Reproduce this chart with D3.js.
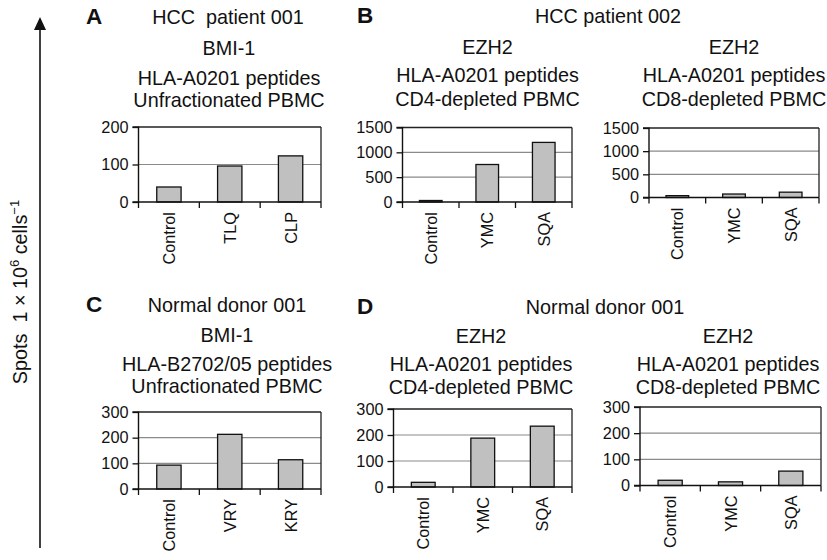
<!DOCTYPE html>
<html>
<head>
<meta charset="utf-8">
<script src="https://cdn.jsdelivr.net/npm/d3@7"></script>
<style>
  html, body { margin: 0; padding: 0; background: #fff; }
  svg { display: block; font-family: "Liberation Sans", Arial, Helvetica, sans-serif; }
</style>
</head>
<body>
<svg id="chart" width="827" height="560"></svg>
<script>
// ---------- data ----------
const catsA = ["Control", "TLQ", "CLP"];
const valuesA = [40, 96, 123];
const ticksA = [0, 100, 200];

const catsB = ["Control", "YMC", "SQA"];
const valuesB_CD4 = [30, 755, 1200];
const valuesB_CD8 = [40, 75, 115];
const ticksB = [0, 500, 1000, 1500];

const catsC = ["Control", "VRY", "KRY"];
const valuesC = [93, 213, 114];
const ticksC = [0, 100, 200, 300];

const catsD = ["Control", "YMC", "SQA"];
const valuesD_CD4 = [18, 188, 234];
const valuesD_CD8 = [20, 14, 55];
const ticksD = [0, 100, 200, 300];

const titlesA = ["BMI-1", "HLA-A0201 peptides", "Unfractionated PBMC"];
const titlesB1 = ["EZH2", "HLA-A0201 peptides", "CD4-depleted PBMC"];
const titlesB2 = ["EZH2", "HLA-A0201 peptides", "CD8-depleted PBMC"];
const titlesC = ["BMI-1", "HLA-B2702/05 peptides", "Unfractionated PBMC"];
const titlesD1 = ["EZH2", "HLA-A0201 peptides", "CD4-depleted PBMC"];
const titlesD2 = ["EZH2", "HLA-A0201 peptides", "CD8-depleted PBMC"];

// ---------- drawing ----------
const svg = d3.select("#chart");
const FONT_T = 19.8;
const FONT_TICK = 16.3;

function panel(cfg) {
  const g = svg.append("g");
  const x = d3.scaleBand().domain(cfg.cats).range([cfg.x0, cfg.x1]).paddingInner(0).paddingOuter(0);
  const y = d3.scaleLinear().domain([0, cfg.ticks[cfg.ticks.length - 1]]).range([cfg.y0, cfg.yTop]);

  // gridlines
  g.selectAll("line.grid").data(cfg.ticks.slice(1, -1)).enter().append("line")
    .attr("x1", cfg.x0).attr("x2", cfg.x1)
    .attr("y1", d => y(d)).attr("y2", d => y(d))
    .attr("stroke", "#8a8a8a").attr("stroke-width", 1.1);

  // frame top & right
  g.append("line").attr("x1", cfg.x0).attr("x2", cfg.x1).attr("y1", cfg.yTop).attr("y2", cfg.yTop)
    .attr("stroke", "#222").attr("stroke-width", 1.3);
  g.append("line").attr("x1", cfg.x1).attr("x2", cfg.x1).attr("y1", cfg.yTop).attr("y2", cfg.y0)
    .attr("stroke", "#222").attr("stroke-width", 1.3);

  // bars
  const bw = x.bandwidth() / 2.5;
  g.selectAll("rect.bar").data(cfg.values).enter().append("rect")
    .attr("x", (d, i) => x(cfg.cats[i]) + (x.bandwidth() - bw) / 2)
    .attr("width", bw)
    .attr("y", d => y(d))
    .attr("height", d => y(0) - y(d))
    .attr("fill", "#c0c0c0").attr("stroke", "#111").attr("stroke-width", 1.3);

  // y axis
  const ya = d3.axisLeft(y).tickValues(cfg.ticks).tickSize(6).tickPadding(4).tickFormat(d3.format("d"));
  const yg = g.append("g").attr("transform", `translate(${cfg.x0},0)`).call(ya);
  yg.select(".domain").attr("stroke", "#111").attr("stroke-width", 1.4).attr("d", `M-6,${cfg.y0}H0V${cfg.yTop}H-6`);
  yg.selectAll(".tick line").attr("stroke", "#111").attr("stroke-width", 1.3);
  yg.selectAll(".tick text").attr("font-size", FONT_TICK).attr("fill", "#111")
    .attr("font-family", "'Liberation Sans', Arial, sans-serif");

  // x axis (ticks between categories)
  g.append("line").attr("x1", cfg.x0).attr("x2", cfg.x1).attr("y1", cfg.y0).attr("y2", cfg.y0)
    .attr("stroke", "#111").attr("stroke-width", 1.4);
  const bounds = cfg.cats.map(c => x(c)).concat([cfg.x1]);
  g.selectAll("line.xt").data(bounds).enter().append("line")
    .attr("x1", d => d).attr("x2", d => d).attr("y1", cfg.y0).attr("y2", cfg.y0 + 6)
    .attr("stroke", "#111").attr("stroke-width", 1.3);
  g.selectAll("text.xl").data(cfg.cats).enter().append("text")
    .attr("transform", d => `translate(${x(d) + x.bandwidth() / 2 + 6},${cfg.y0 + 10}) rotate(-90)`)
    .attr("text-anchor", "end").attr("font-size", FONT_TICK).attr("fill", "#111")
    .text(d => d);

  // subtitles
  g.selectAll("text.st").data(cfg.titles).enter().append("text")
    .attr("x", cfg.tx).attr("y", (d, i) => cfg.tys[i])
    .attr("text-anchor", "middle").attr("font-size", FONT_T).attr("fill", "#111")
    .text(d => d);
}

panel({cats: catsA, values: valuesA, ticks: ticksA, x0: 138.5, x1: 321, yTop: 127, y0: 202,
       titles: titlesA, tx: 229, tys: [55, 85, 107]});
panel({cats: catsB, values: valuesB_CD4, ticks: ticksB, x0: 402.5, x1: 572, yTop: 127.5, y0: 202,
       titles: titlesB1, tx: 487.5, tys: [54, 82, 106]});
panel({cats: catsB, values: valuesB_CD8, ticks: ticksB, x0: 649, x1: 819, yTop: 128, y0: 197.5,
       titles: titlesB2, tx: 734, tys: [54, 82, 106]});
panel({cats: catsC, values: valuesC, ticks: ticksC, x0: 138.5, x1: 321, yTop: 412, y0: 489,
       titles: titlesC, tx: 227, tys: [342, 371, 392.5]});
panel({cats: catsD, values: valuesD_CD4, ticks: ticksD, x0: 393.5, x1: 572, yTop: 409, y0: 487,
       titles: titlesD1, tx: 481, tys: [343, 371, 394]});
panel({cats: catsD, values: valuesD_CD8, ticks: ticksD, x0: 640, x1: 821, yTop: 407, y0: 485.5,
       titles: titlesD2, tx: 728, tys: [343, 371, 394]});

// panel letters & group headings
const heads = [
  {letter: "A", lx: 86, ly: 23.5, text: "HCC\u00a0 patient 001", tx: 228},
  {letter: "B", lx: 357, ly: 23, text: "HCC patient 002", tx: 608},
  {letter: "C", lx: 86, ly: 312, text: "Normal donor 001", tx: 227},
  {letter: "D", lx: 357, ly: 313.5, text: "Normal donor 001", tx: 605}
];
heads.forEach(h => {
  svg.append("text").attr("x", h.lx).attr("y", h.ly).attr("font-size", 22.5).attr("font-weight", "bold")
    .attr("fill", "#111").text(h.letter);
  svg.append("text").attr("x", h.tx).attr("y", h.ly).attr("font-size", FONT_T).attr("text-anchor", "middle")
    .attr("fill", "#111").text(h.text);
});

// big y arrow
svg.append("line").attr("x1", 40).attr("x2", 40).attr("y1", 28).attr("y2", 548)
  .attr("stroke", "#111").attr("stroke-width", 1.6);
svg.append("path").attr("d", "M40,17 L46,30 L34,30 Z").attr("fill", "#111");

// y label
const yl = svg.append("text").attr("transform", "translate(27,292) rotate(-90)")
  .attr("text-anchor", "middle").attr("font-size", FONT_T).attr("fill", "#111");
yl.append("tspan").text("Spots\u00a0 1 \u00d7 10");
yl.append("tspan").attr("dy", -8).attr("font-size", 13).text("6");
yl.append("tspan").attr("dy", 8).text(" cells");
yl.append("tspan").attr("dy", -8).attr("font-size", 13).text("\u22121");
</script>
</body>
</html>
